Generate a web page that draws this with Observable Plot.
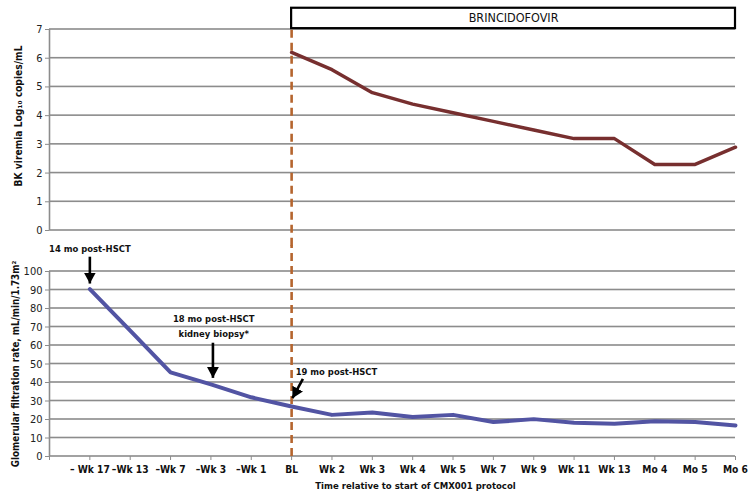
<!DOCTYPE html>
<html>
<head>
<meta charset="utf-8">
<script src="https://cdn.jsdelivr.net/npm/d3@7"></script>
<script src="https://cdn.jsdelivr.net/npm/@observablehq/plot@0.6"></script>
<style>
  html, body { margin: 0; padding: 0; background: white; }
  #chart { position: relative; width: 754px; height: 502px; overflow: hidden; background: white; }
  #chart > div, #chart > svg { position: absolute; left: 0; }
</style>
</head>
<body>
<div id="chart"></div>
<script>
// ---- data ----
const categories = ["\u2013 Wk 17", "\u2013Wk 13", "\u2013Wk 7", "\u2013Wk 3", "\u2013Wk 1", "BL",
  "Wk 2", "Wk 3", "Wk 4", "Wk 5", "Wk 7", "Wk 9", "Wk 11", "Wk 13", "Mo 4", "Mo 5", "Mo 6"];
const bkViremia = [null, null, null, null, null, 6.2, 5.6, 4.8, 4.4, 4.1, 3.8, 3.5, 3.2, 3.2, 2.3, 2.3, 2.9];
const gfr = [90.5, 68, 45.5, 39, 32, 27, 22.5, 23.8, 21.3, 22.5, 18.6, 20.2, 18.2, 17.7, 19.1, 18.7, 16.8];
const bkTicks = [0, 1, 2, 3, 4, 5, 6, 7];
const gfrTicks = [0, 10, 20, 30, 40, 50, 60, 70, 80, 90, 100];
const treatmentLabel = "BRINCIDOFOVIR";
const treatmentStart = "BL";
const notes = [
  {label: "14 mo post-HSCT", at: "\u2013 Wk 17", shift: 0, y: 112, anchor: "middle"},
  {label: "18 mo post-HSCT", at: "\u2013Wk 3", shift: 0.07, y: 74.5, anchor: "middle"},
  {label: "kidney biopsy*", at: "\u2013Wk 3", shift: 0.07, y: 66.3, anchor: "middle"},
  {label: "19 mo post-HSCT", at: "BL", shift: 0.1, y: 45.5, anchor: "start"}
];
const arrows = [
  {at: "\u2013 Wk 17", s1: 0, y1: 108, s2: 0, y2: 93.5},
  {at: "\u2013Wk 3", s1: 0.05, y1: 61.5, s2: 0.05, y2: 42.5},
  {at: "BL", s1: 0.28, y1: 42, s2: 0.02, y2: 31.5}
];

// ---- styles ----
const FONT = "'DejaVu Sans Condensed', 'Liberation Sans Narrow', sans-serif";
const GRID = "#8c8c8c";
const BROWN = "#772f2f";
const BLUE = "#5254a3";
const DASH = "#b5652e";
const idx = c => categories.indexOf(c);
const xLast = categories.length - 1;
const xDomain = [-1, xLast];

const bkData = categories.map((c, i) => ({i, c, v: bkViremia[i]})).filter(d => d.v != null);
const gfrData = categories.map((c, i) => ({i, c, v: gfr[i]}));
const noteData = notes.map(n => ({...n, x: idx(n.at) + n.shift}));
const arrowData = arrows.map(a => ({x1: idx(a.at) + a.s1, y1: a.y1, x2: idx(a.at) + a.s2, y2: a.y2}));

function filledHead(color, context) {
  const doc = (context && context.document) || document;
  const ns = "http://www.w3.org/2000/svg";
  const m = doc.createElementNS(ns, "marker");
  m.setAttribute("viewBox", "-11 -6 11 12");
  m.setAttribute("markerWidth", 11);
  m.setAttribute("markerHeight", 12);
  m.setAttribute("markerUnits", "userSpaceOnUse");
  m.setAttribute("orient", "auto");
  m.setAttribute("refX", 0);
  m.setAttribute("refY", 0);
  const p = doc.createElementNS(ns, "path");
  p.setAttribute("d", "M-11,-6L0,0L-11,6Z");
  p.setAttribute("fill", color);
  p.setAttribute("stroke", "none");
  m.appendChild(p);
  return m;
}

const baseStyle = {fontFamily: FONT, fontSize: "11px", color: "#1a1a1a", background: "white", overflow: "visible"};
const overStyle = {fontFamily: FONT, fontSize: "11px", color: "#1a1a1a", background: "transparent", overflow: "visible"};
const fmt = d3.format("d");
// gridlines drawn as thin filled bands (1.6px tall) across the frame
const gridBands = ticks => Plot.rect(ticks, {x1: () => -1, x2: () => xLast, y1: d => d, y2: d => d,
  insetTop: -0.8, insetBottom: -0.8, fill: GRID});

const TOP = {width: 754, height: 245, marginTop: 29, marginBottom: 15, marginLeft: 49, marginRight: 19,
  x: {domain: xDomain, axis: null}, y: {domain: [0, 7], axis: null}};
const BOT = {width: 754, height: 257, marginTop: 26, marginBottom: 46, marginLeft: 49, marginRight: 19,
  x: {domain: xDomain, axis: null}, y: {domain: [0, 100], axis: null}};

// ---- top panel: base (grid, axis, series) ----
const topBase = Plot.plot({
  ...TOP, style: baseStyle,
  marks: [
    gridBands(bkTicks),
    Plot.ruleX([-1], {y1: 0, y2: 7, stroke: GRID, strokeWidth: 1.6}),
    Plot.axisY({ticks: bkTicks, tickFormat: fmt, tickSize: 4, tickPadding: 3, stroke: GRID, fontSize: 11, fill: "#222", label: null}),
    Plot.line(bkData, {x: "i", y: "v", stroke: BROWN, strokeWidth: 3.5})
  ]
});
// ---- top panel: overlay (treatment, labels) ----
const topOver = Plot.plot({
  ...TOP, style: overStyle,
  marks: [
    Plot.ruleX([idx(treatmentStart)], {y1: 6.97, y2: -0.6, stroke: DASH, strokeWidth: 2.6, strokeDasharray: "8,5"}),
    Plot.rect([{x1: idx(treatmentStart), x2: xLast, y1: 7.03, y2: 7.74}],
      {x1: "x1", x2: "x2", y1: "y1", y2: "y2", fill: "white", stroke: "black", strokeWidth: 2.2}),
    Plot.text([treatmentLabel], {x: (idx(treatmentStart) + xLast) / 2, y: 7.4, text: d => d, fontSize: 12.5, fill: "#111"}),
    Plot.text(["BK viremia Log\u2081\u2080 copies/mL"], {frameAnchor: "left", textAnchor: "middle", dx: -31, dy: -14, rotate: -90, text: d => d, fontWeight: "bold", fontSize: 10.2, fill: "#111"})
  ]
});

// ---- bottom panel: base ----
const botBase = Plot.plot({
  ...BOT, style: baseStyle,
  marks: [
    gridBands(gfrTicks),
    Plot.ruleX([-1], {y1: 0, y2: 100, stroke: GRID, strokeWidth: 1.6}),
    Plot.axisY({ticks: gfrTicks, tickFormat: fmt, tickSize: 4, tickPadding: 3, stroke: GRID, fontSize: 11, fill: "#222", label: null}),
    Plot.line(gfrData, {x: "i", y: "v", stroke: BLUE, strokeWidth: 4})
  ]
});
// ---- bottom panel: overlay ----
function botOverlay(marker) {
  return Plot.plot({
    ...BOT, style: overStyle,
    marks: [
      Plot.axisX({ticks: d3.range(-1, categories.length), tickFormat: i => i >= 0 ? categories[i] : "", tickSize: 4, tickPadding: 5,
        stroke: GRID, fontSize: 10.2, fontWeight: "bold", fill: "#111", label: null}),
      Plot.ruleX([idx(treatmentStart)], {y1: 0, y2: 115, stroke: DASH, strokeWidth: 2.6, strokeDasharray: "8,5"}),
      Plot.link(arrowData, {x1: "x1", y1: "y1", x2: "x2", y2: "y2", stroke: "black", strokeWidth: 2.6, markerEnd: marker}),
      Plot.text(noteData.filter(d => d.anchor === "middle"), {x: "x", y: "y", text: "label", textAnchor: "middle", fontWeight: "bold", fontSize: 9.4, fill: "#111"}),
      Plot.text(noteData.filter(d => d.anchor === "start"), {x: "x", y: "y", text: "label", textAnchor: "start", fontWeight: "bold", fontSize: 9.4, fill: "#111"}),
      Plot.text(["Glomerular filtration rate, mL/min/1.73m\u00b2"], {frameAnchor: "left", textAnchor: "middle", dx: -34, dy: 0, rotate: -90, text: d => d, fontWeight: "bold", fontSize: 9.8, fill: "#111"}),
      Plot.text(["Time relative to start of CMX001 protocol"], {frameAnchor: "bottom", textAnchor: "middle", dx: 23, dy: 32, text: d => d, fontWeight: "bold", fontSize: 9.5, fill: "#111"})
    ]
  });
}
let botOver;
try { botOver = botOverlay(filledHead); } catch (e) { botOver = botOverlay("arrow"); }

const chart = document.getElementById("chart");
[[botBase, 245], [botOver, 245], [topBase, 0], [topOver, 0]].forEach(([svg, t]) => {
  svg.style.top = t + "px";
  chart.appendChild(svg);
});
chart.querySelectorAll("path, line, rect").forEach(e => e.getBoundingClientRect());
</script>
</body>
</html>
